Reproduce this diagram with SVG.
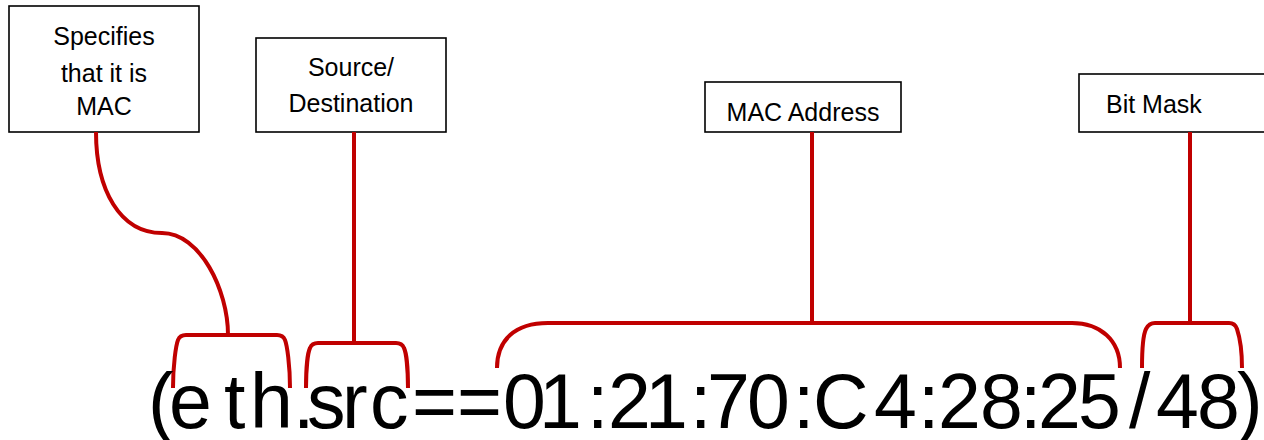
<svg xmlns="http://www.w3.org/2000/svg" width="1264" height="440" viewBox="0 0 1264 440">
  <style>
    .box { fill: #fff; stroke: #000; stroke-width: 1.6; }
    .lbl { font-family: "Liberation Sans", Arial, sans-serif; font-size: 25px; fill: #000; text-anchor: middle; }
    .wire { fill: none; stroke: #C00000; stroke-width: 4; stroke-linejoin: round; }
    .expr { font-family: "Liberation Sans", Arial, sans-serif; font-size: 77px; fill: #000; }
  </style>
  <rect width="1264" height="440" fill="#fff"/>

  <!-- label boxes -->
  <g id="node-mac-type">
    <rect class="box" x="9" y="6" width="190" height="126"/>
    <text class="lbl" x="104" y="45">Specifies</text>
    <text class="lbl" x="104" y="82">that it is</text>
    <text class="lbl" x="104" y="115">MAC</text>
  </g>
  <g id="node-direction">
    <rect class="box" x="256" y="38" width="190" height="94"/>
    <text class="lbl" x="351" y="76">Source/</text>
    <text class="lbl" x="351" y="112">Destination</text>
  </g>
  <g id="node-address">
    <rect class="box" x="705" y="82" width="196" height="50"/>
    <text class="lbl" x="803" y="121">MAC Address</text>
  </g>
  <g id="node-mask">
    <rect class="box" x="1079" y="74" width="220" height="58"/>
    <text class="lbl" x="1106" y="113" style="text-anchor:start">Bit Mask</text>
  </g>

  <!-- connectors and braces -->
  <g id="connectors">
    <path class="wire" d="M96,132 C96,190 120,233 162,233 C200,233 228,290 228,335"/>
    <path class="wire" d="M173,388 C173,365 176,345 178,340 Q180,335 186,335 H277 Q283,335 285,340 C287,345 290,365 290,388"/>

    <path class="wire" d="M354,132 V343"/>
    <path class="wire" d="M306,388 C306,368 308,352 310,348 Q312,343 318,343 H396 Q402,343 404,348 C406,352 408,368 408,388"/>

    <path class="wire" d="M812,132 V323"/>
    <path class="wire" d="M497,368 C497,340 515,323 548,323 H1072 C1100,323 1120,340 1120,368"/>

    <path class="wire" d="M1190,132 V323"/>
    <path class="wire" d="M1142,368 C1142,345 1144,333 1146,329 Q1149,323 1155,323 H1229 Q1235,323 1237,329 C1239,335 1242,345 1242,368"/>
  </g>

  <!-- filter expression -->
  <text class="expr" y="428" x="148 169 224 250 293 307 342 370 412 457 503 539 587 608 645 690 707 747 793 813 874 918 938 980 1020 1038 1078 1129 1156 1197 1237">(eth.src==01:21:70:C4:28:25/48)</text>
</svg>
